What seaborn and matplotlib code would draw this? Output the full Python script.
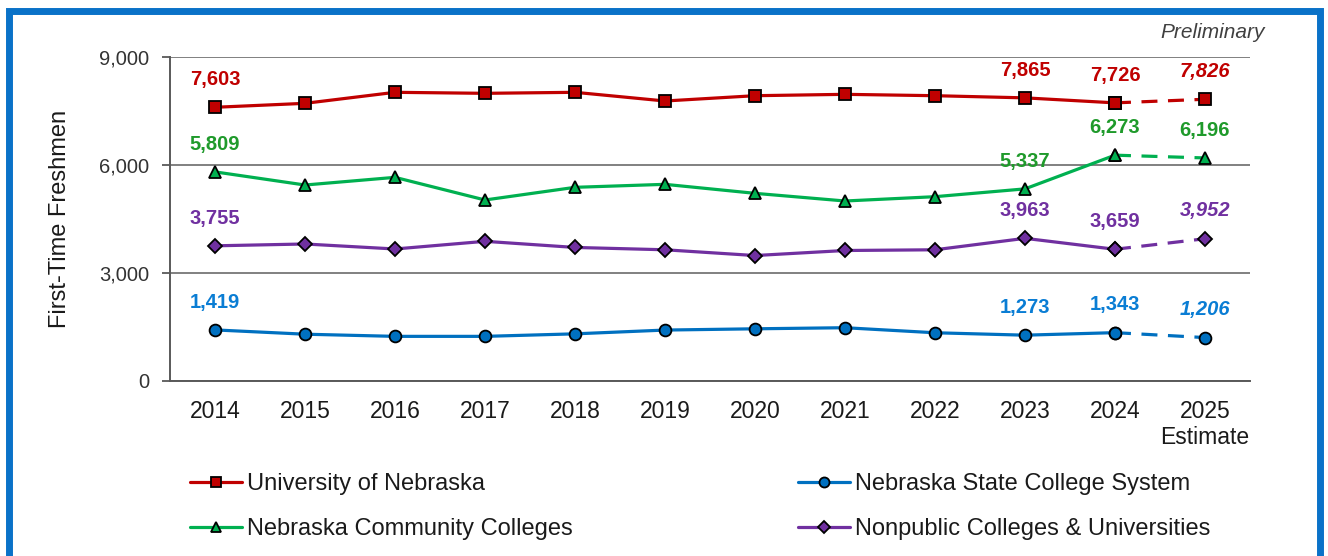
import seaborn as sns
import matplotlib.pyplot as plt
from matplotlib.patches import Rectangle

# Datos
years = ['2014', '2015', '2016', '2017', '2018', '2019', '2020', '2021', '2022', '2023', '2024', '2025']
unl = [7603, 7713, 8019, 7991, 8019, 7778, 7925, 7963, 7925, 7865, 7726, 7826]
ncc = [5809, 5444, 5657, 5028, 5380, 5463, 5213, 5000, 5120, 5337, 6273, 6196]
nscs = [1419, 1300, 1240, 1240, 1310, 1415, 1450, 1480, 1340, 1273, 1343, 1206]
nonpub = [3755, 3806, 3667, 3880, 3710, 3645, 3485, 3625, 3645, 3963, 3659, 3952]
names = ['University of Nebraska', 'Nebraska Community Colleges',
         'Nebraska State College System', 'Nonpublic Colleges & Universities']
labeled = [0, 9, 10, 11]

sns.set_style('white')
plt.rcParams['font.family'] = ['Liberation Sans', 'DejaVu Sans']

fig = plt.figure(figsize=(13.28, 5.56), dpi=100)
ax = fig.add_axes([170 / 1328, 1 - 381 / 556, 1080 / 1328, 324 / 556])

series = [
    (unl, names[0], '#C00000', '#C00000', 's', 8, False),
    (ncc, names[1], '#00B050', '#1F9A2B', '^', 9, False),
    (nscs, names[2], '#0070C0', '#0A7DD4', 'o', 8.5, True),
    (nonpub, names[3], '#7030A0', '#7030A0', 'D', 7.5, True),
]

handles = {}
for vals, name, col, lab_col, mk, ms, ital in series:
    # tramo real
    sns.lineplot(x=years[:11], y=vals[:11], color=col, lw=2.3, marker=mk, markersize=ms,
                 markerfacecolor=col, markeredgecolor='black', markeredgewidth=1.3,
                 label=name, ax=ax, sort=False, zorder=3)
    # tramo estimado
    sns.lineplot(x=years[10:], y=vals[10:], color=col, lw=2.3, linestyle=(0, (5, 3.3)),
                 marker=mk, markersize=ms, markerfacecolor=col, markeredgecolor='black',
                 markeredgewidth=1.3, ax=ax, sort=False, zorder=3, legend=False)
    handles[name] = ax.lines[-2]
    for i in labeled:
        style = 'italic' if (i == 11 and name != names[1]) else 'normal'
        ax.annotate(f'{vals[i]:,}', (i, vals[i]), xytext=(0, 20), textcoords='offset points',
                    ha='center', va='center', fontsize=14.5, fontweight='bold',
                    fontstyle=style, color=lab_col)

ax.get_legend().remove()

ax.set_xlim(-0.5, 11.5)
ax.set_ylim(0, 9000)
ax.set_yticks([0, 3000, 6000, 9000])
ax.set_yticklabels(['0', '3,000', '6,000', '9,000'], fontsize=14.5, color='#333333')
ax.set_xticks(range(12))
ax.set_xticklabels(years[:11] + ['2025\nEstimate'], fontsize=16.5, color='#1a1a1a',
                   linespacing=1.15, va='top')
ax.set_xticks([x - 0.5 for x in range(13)], minor=True)
ax.tick_params(axis='x', which='major', length=0, pad=14)
ax.tick_params(axis='x', which='minor', length=6, width=1.3, color='#595959', direction='out')
ax.tick_params(axis='y', length=6, width=1.3, color='#595959', direction='out', pad=9, left=True)
ax.set_xlabel('')
ax.set_ylabel('First-Time Freshmen', fontsize=17, color='#1a1a1a', labelpad=20)

ax.yaxis.grid(True, color='#808080', lw=1.4)
ax.set_axisbelow(True)
for s in ['top', 'right']:
    ax.spines[s].set_visible(False)
for s in ['left', 'bottom']:
    ax.spines[s].set_color('#595959')
    ax.spines[s].set_linewidth(1.4)

fig.text(1213 / 1328, 1 - 33 / 556, 'Preliminary', fontsize=15, fontstyle='italic',
         color='#404040', ha='center', va='center')

leg_kw = dict(frameon=False, fontsize=17, handlelength=2.2, handletextpad=0.2,
              labelspacing=0.97, borderpad=0, borderaxespad=0, loc='upper left',
              markerscale=0.85, labelcolor='#1a1a1a')
fig.legend([handles[names[0]], handles[names[1]]], names[:2],
           bbox_to_anchor=(190 / 1328, 1 - 473 / 556), **leg_kw)
fig.legend([handles[names[2]], handles[names[3]]], names[2:],
           bbox_to_anchor=(798 / 1328, 1 - 473 / 556), **leg_kw)

# marco azul
fig.patches.append(Rectangle((8.5 / 1328, -0.05), (1320 - 8.5) / 1328, 1.05 - 11.5 / 556,
                             transform=fig.transFigure, fill=False, edgecolor='#0A72C8',
                             lw=5, zorder=10))

fig.savefig('out.png', dpi=100)
